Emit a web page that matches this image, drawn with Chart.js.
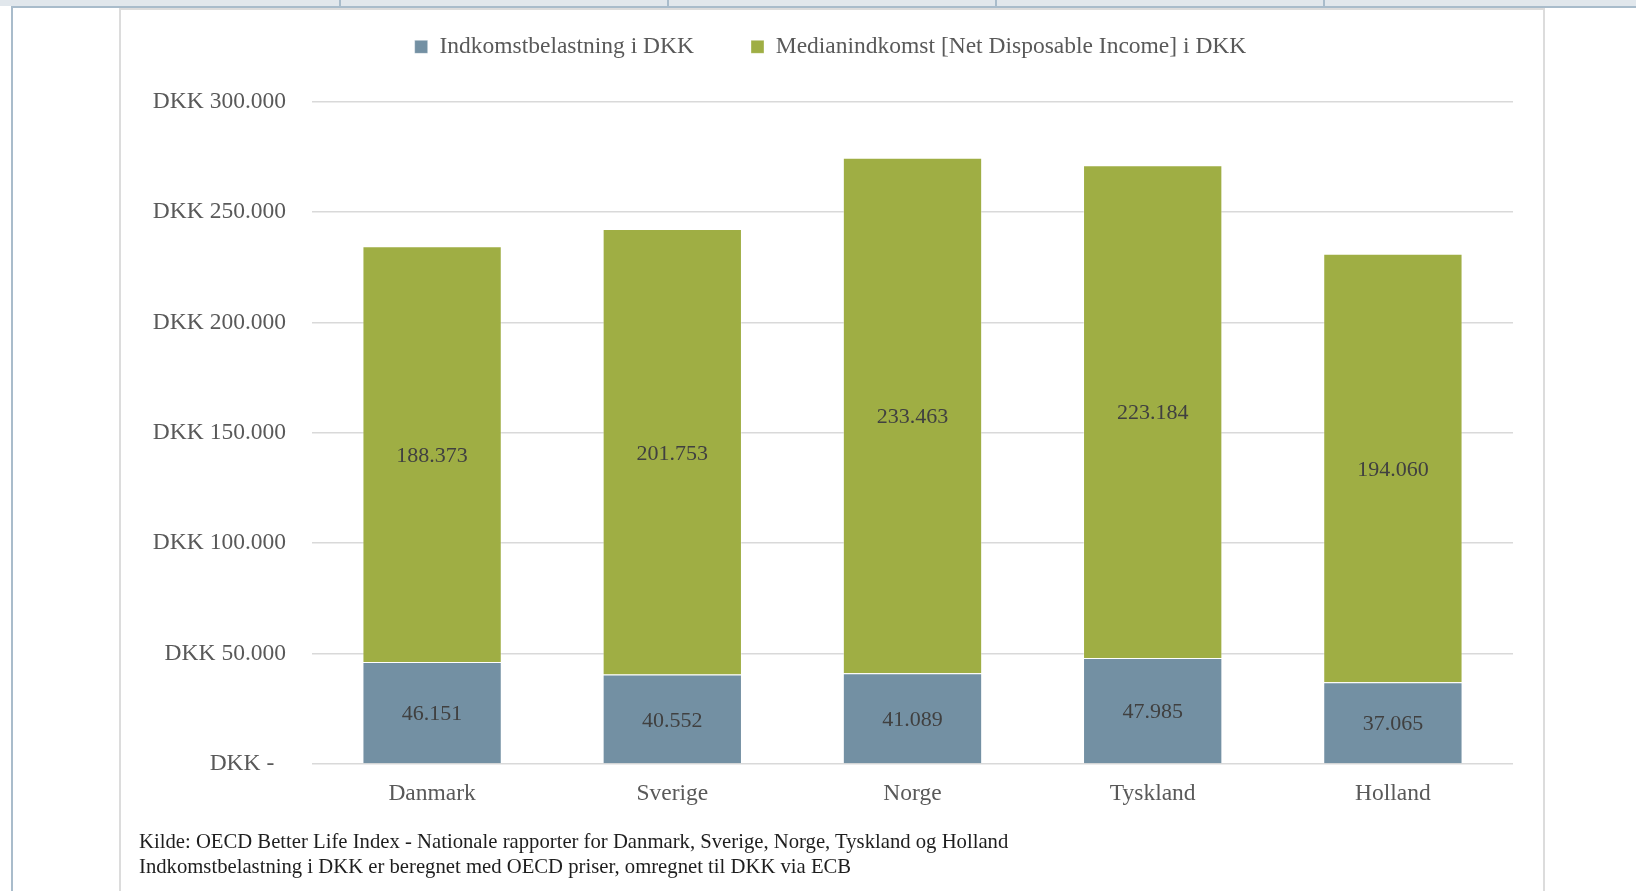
<!DOCTYPE html>
<html lang="da">
<head>
<meta charset="UTF-8">
<title>Indkomstbelastning og medianindkomst</title>
<script src="https://cdn.jsdelivr.net/npm/chart.js"></script>
<style>
  html, body { margin: 0; padding: 0; background: #fff; }
  body { width: 1636px; height: 891px; position: relative; overflow: hidden; }
  .hdr { position: absolute; left: 0; top: 0; width: 1636px; height: 6px; background: #e1e7ec; }
  .hdr-line { position: absolute; left: 11px; top: 6px; width: 1625px; height: 2px; background: #a9bccb; }
  .hdr-div { position: absolute; top: 0; width: 2px; height: 6px; background: #a9bccb; }
  .side { position: absolute; left: 11px; top: 6px; width: 2px; height: 885px; background: #a9bccb; }
  .frame { position: absolute; left: 119px; top: 8px; width: 1422px; height: 900px;
           border: 2px solid #dcdcdc; border-bottom: none; }
  canvas { position: absolute; left: 0; top: 0; }
  .note { position: absolute; left: 139px; font-family: "Liberation Serif", serif;
          font-size: 20.7px; color: #1e1e1e; white-space: nowrap; line-height: 25px; }
</style>
</head>
<body>
<div class="hdr"></div>
<div class="hdr-div" style="left:339px"></div>
<div class="hdr-div" style="left:667px"></div>
<div class="hdr-div" style="left:995px"></div>
<div class="hdr-div" style="left:1323px"></div>
<div class="hdr-line"></div>
<div class="side"></div>
<div class="frame"></div>
<canvas id="chart" width="1636" height="891"></canvas>
<div class="note" style="top:829px">Kilde: OECD Better Life Index - Nationale rapporter for Danmark, Sverige, Norge, Tyskland og Holland</div>
<div class="note" style="top:854px">Indkomstbelastning i DKK er beregnet med OECD priser, omregnet til DKK via ECB</div>

<script>
const categories = ['Danmark', 'Sverige', 'Norge', 'Tyskland', 'Holland'];
const indkomstbelastning = [46151, 40552, 41089, 47985, 37065];
const medianindkomst = [188373, 201753, 233463, 223184, 194060];
const yMax = 300000;
const yStep = 50000;

// dansk tusindtalsseparator
function fmt(v) {
  return String(Math.round(v)).replace(/\B(?=(\d{3})+(?!\d))/g, '.');
}

const serif = '"Liberation Serif", "Times New Roman", serif';

const segmentLabels = {
  id: 'segmentLabels',
  afterDatasetsDraw(chart) {
    const ctx = chart.ctx;
    ctx.save();
    ctx.font = '22px ' + serif;
    ctx.fillStyle = '#404040';
    ctx.textAlign = 'center';
    ctx.textBaseline = 'middle';
    chart.data.datasets.forEach((ds, i) => {
      chart.getDatasetMeta(i).data.forEach((bar, j) => {
        ctx.fillText(fmt(ds.data[j]), bar.x, (bar.y + bar.base) / 2 + 2);
      });
    });
    ctx.restore();
  }
};

new Chart(document.getElementById('chart'), {
  type: 'bar',
  data: {
    labels: categories,
    datasets: [{
      label: 'Indkomstbelastning i DKK',
      data: indkomstbelastning,
      backgroundColor: '#7390a3',
      borderColor: 'rgba(255,255,255,0.35)',
      borderWidth: 1
    }, {
      label: 'Medianindkomst [Net Disposable Income] i DKK',
      data: medianindkomst,
      backgroundColor: '#9fae44',
      borderColor: 'rgba(255,255,255,0.35)',
      borderWidth: 1
    }]
  },
  options: {
    responsive: false,
    animation: false,
    devicePixelRatio: 1,
    layout: { padding: { left: 148, right: 123, top: 0, bottom: 0 } },
    datasets: { bar: { categoryPercentage: 1, barPercentage: 0.58 } },
    plugins: {
      legend: {
        position: 'top',
        labels: {
          boxWidth: 13,
          boxHeight: 13,
          padding: 10,
          color: '#595959',
          font: { family: serif, size: 23.5 },
          // wider gap between the two entries, as in the original
          generateLabels(chart) {
            const items = Chart.defaults.plugins.legend.labels.generateLabels(chart);
            items[0].text += '        ';
            return items;
          }
        }
      },
      // empty spacer between legend and plot
      subtitle: {
        display: true,
        text: '',
        weight: 500,
        font: { size: 1, lineHeight: 1 },
        padding: { top: 0, bottom: 32 }
      },
      tooltip: { enabled: false }
    },
    scales: {
      x: {
        stacked: true,
        grid: { display: false },
        border: { display: false },
        ticks: { color: '#595959', padding: 8, font: { family: serif, size: 23.5 } },
        afterFit(s) { s.height = 127; }
      },
      y: {
        stacked: true,
        min: 0,
        max: yMax,
        grid: { color: '#d9d9d9', lineWidth: 1.5, drawTicks: false },
        border: { display: false },
        ticks: {
          stepSize: yStep,
          padding: 26,
          color: '#595959',
          font: { family: serif, size: 23.5 },
          callback: v => v === 0 ? 'DKK -\u2002' : 'DKK ' + fmt(v)
        },
        afterFit(s) { s.width = 164; s.paddingTop = 101.6; }
      }
    }
  },
  plugins: [segmentLabels]
});
</script>
</body>
</html>
